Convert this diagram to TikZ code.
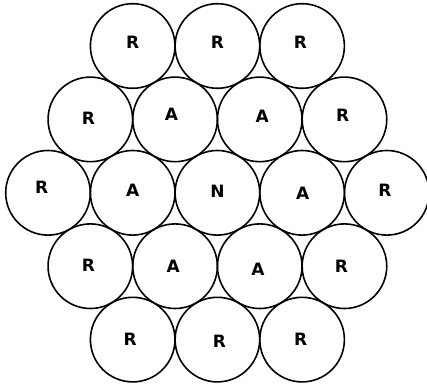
\documentclass[tikz,border=0pt]{standalone}
\usepackage{fontspec}
\usepackage{tikz}
\setsansfont{DejaVu Sans}

\begin{document}
\begin{tikzpicture}[x=1pt,y=-1pt,
    atom/.style={circle,draw,line width=1.6pt,minimum size=84.6pt,inner sep=0pt},
    tag/.style={font=\sffamily\bfseries\fontsize{17}{20}\selectfont,inner sep=0pt}]
    \useasboundingbox (0,0) rectangle (427,387);
    \foreach \n/\x/\y/\t/\dx/\dy in {%
      a1/132.7/46/R/0/-3.3, a2/217.4/46/R/0/-3.3, a3/302.1/46/R/-1.7/-3.3,
      b1/90.35/119.4/R/-2/-1, b2/175.05/119.4/A/-3.5/-5, b3/259.75/119.4/A/2.4/-2.7, b4/344.45/119.4/R/-1.7/-4.4,
      c1/48/192.8/R/-6.3/-5.5, c2/132.7/192.8/A/0/-2, c3/217.4/192.8/N/0/-1, c4/302.1/192.8/A/0.7/0.5, c5/386.8/192.8/R/-1.8/-2.8,
      d1/90.35/266.2/R/-2/-0.5, d2/175.05/266.2/A/-1.8/0.1, d3/259.75/266.2/A/-1.8/3.5, d4/344.45/266.2/R/-3.1/0.1,
      e1/132.7/339.6/R/-2.5/0.1, e2/217.4/339.6/R/2/1.4, e3/302.1/339.6/R/-1.4/0.1}{
      \node[atom] (\n) at (\x,\y) {};
      \node[tag] (\n-t) at (\x+\dx,\y+\dy) {\t};}
  \end{tikzpicture}
\end{document}
